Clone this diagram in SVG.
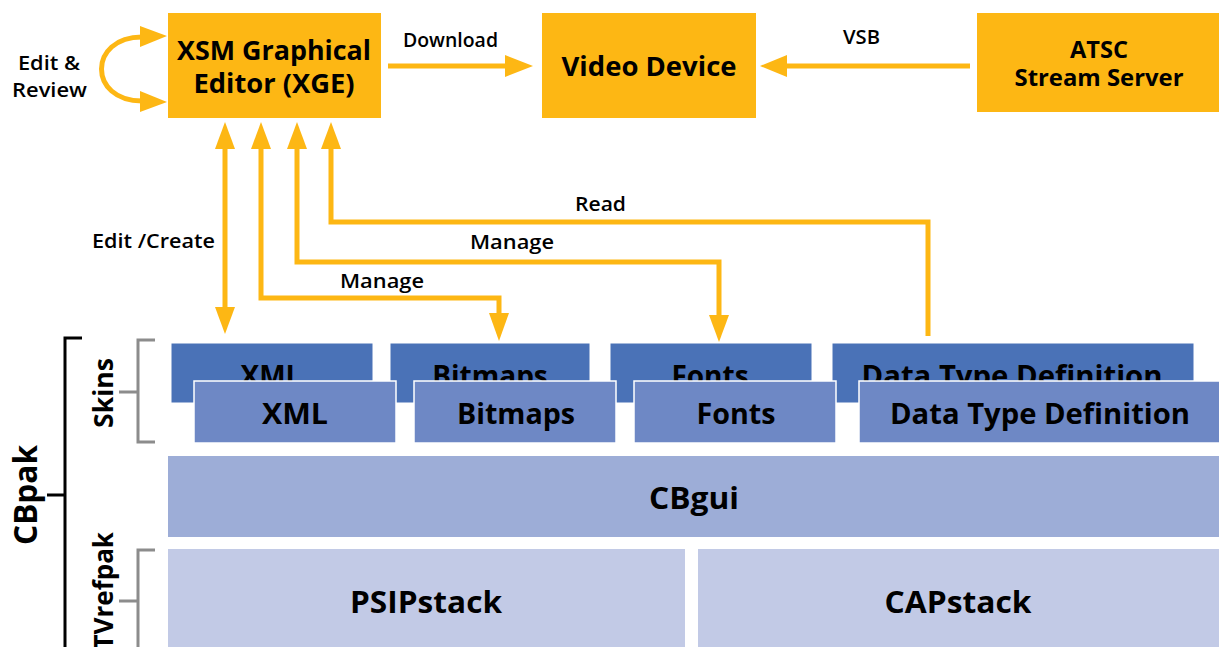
<svg xmlns="http://www.w3.org/2000/svg" width="1219" height="647" viewBox="0 0 1219 647">
<style>
text{font-family:"Open Sans","Noto Sans","DejaVu Sans",sans-serif;fill:#000;font-weight:700}
.orange{fill:#FDB714}
.box{font-size:26px;text-anchor:middle}
.lbl{font-size:19px;font-weight:600}
.conn{fill:none;stroke:#FDB714;stroke-width:5}
.back{fill:#4A72B7;stroke:#fff;stroke-width:1}
.front{fill:#6E88C5;stroke:#fff;stroke-width:1.5}
.skin{font-size:28px;text-anchor:middle}
.big{font-size:31px;text-anchor:middle}
.brk{fill:none;stroke:#8C8C8C;stroke-width:3}
.brkb{fill:none;stroke:#000;stroke-width:3}
.head{fill:#FDB714}
</style>

<g id="xge">
<rect class="orange" x="168" y="13" width="213" height="105"/>
<text class="box" x="274" y="60" textLength="194" lengthAdjust="spacingAndGlyphs">XSM Graphical</text>
<text class="box" x="274" y="93" textLength="161" lengthAdjust="spacingAndGlyphs">Editor (XGE)</text>
</g>
<g id="video-device">
<rect class="orange" x="542" y="13" width="214" height="105"/>
<text class="box" x="649" y="76" textLength="175" lengthAdjust="spacingAndGlyphs">Video Device</text>
</g>
<g id="atsc">
<rect class="orange" x="977" y="13" width="242" height="99"/>
<text class="box" x="1099" y="58" style="font-size:24px" textLength="58" lengthAdjust="spacingAndGlyphs">ATSC</text>
<text class="box" x="1099" y="86" style="font-size:24px" textLength="169" lengthAdjust="spacingAndGlyphs">Stream Server</text>
</g>

<g id="skins-back">
<rect class="back" x="171" y="343" width="202" height="60"/>
<text class="skin" x="271" y="386">XML</text>
<rect class="back" x="390" y="343" width="200" height="60"/>
<text class="skin" x="490" y="386">Bitmaps</text>
<rect class="back" x="610" y="343" width="202" height="60"/>
<text class="skin" x="710" y="386">Fonts</text>
<rect class="back" x="832" y="343" width="362" height="60"/>
<text class="skin" x="1012" y="386" textLength="301" lengthAdjust="spacingAndGlyphs">Data Type Definition</text>
</g>
<g id="xml">
<rect class="front" x="194" y="381" width="202" height="62"/>
<text class="skin" x="295" y="424" textLength="66" lengthAdjust="spacingAndGlyphs">XML</text>
</g>
<g id="bitmaps">
<rect class="front" x="414" y="381" width="202" height="62"/>
<text class="skin" x="516" y="424" textLength="118" lengthAdjust="spacingAndGlyphs">Bitmaps</text>
</g>
<g id="fonts">
<rect class="front" x="634" y="381" width="202" height="62"/>
<text class="skin" x="736" y="424" textLength="79" lengthAdjust="spacingAndGlyphs">Fonts</text>
</g>
<g id="dtd">
<rect class="front" x="859" y="381" width="362" height="62"/>
<text class="skin" x="1040" y="424" textLength="300" lengthAdjust="spacingAndGlyphs">Data Type Definition</text>
</g>

<g id="cbgui">
<rect x="168" y="456" width="1051" height="81" fill="#9DADD7"/>
<text class="big" x="694" y="509" textLength="90" lengthAdjust="spacingAndGlyphs">CBgui</text>
</g>
<g id="psipstack">
<rect x="168" y="549" width="517" height="100" fill="#C2CAE6"/>
<text class="big" x="426" y="613" textLength="152" lengthAdjust="spacingAndGlyphs">PSIPstack</text>
</g>
<g id="capstack">
<rect x="698" y="549" width="521" height="100" fill="#C2CAE6"/>
<text class="big" x="958" y="613" textLength="147" lengthAdjust="spacingAndGlyphs">CAPstack</text>
</g>

<g id="brackets">
<path class="brkb" d="M82 338 H65 V649 M47 495 H65"/>
<path class="brk" d="M155 340 H138 V442 H155 M119 392 H138"/>
<path class="brk" d="M155 550 H138 V649 M119 601 H138"/>
<text transform="translate(37 495) rotate(-90)" style="font-size:32px;text-anchor:middle" textLength="100" lengthAdjust="spacingAndGlyphs">CBpak</text>
<text transform="translate(113 393) rotate(-90)" style="font-size:26px;text-anchor:middle" textLength="70" lengthAdjust="spacingAndGlyphs">Skins</text>
<text transform="translate(113 532) rotate(-90)" style="font-size:26px;text-anchor:end">TVrefpak</text>
</g>

<g id="connectors">
<!-- Edit & Review loop -->
<path class="conn" d="M142 37 C88 37 88 101 142 101"/>
<polygon class="head" points="167,36 140,26 140,47"/>
<polygon class="head" points="167,102 140,91 140,112"/>
<!-- Download -->
<line class="conn" x1="388" y1="66" x2="507" y2="66"/>
<polygon class="head" points="533,66 505,55 505,77"/>
<!-- VSB -->
<line class="conn" x1="970" y1="66" x2="784" y2="66"/>
<polygon class="head" points="760,66 787,55 787,77"/>
<!-- Edit/Create double -->
<line class="conn" x1="225" y1="146" x2="225" y2="310"/>
<polygon class="head" points="225,122 215,149 235,149"/>
<polygon class="head" points="225,334 215,307 235,307"/>
<!-- Manage bitmaps -->
<path class="conn" d="M261 146 V298 H499 V316"/>
<polygon class="head" points="261,122 251,149 271,149"/>
<polygon class="head" points="499,341 489,313 509,313"/>
<!-- Manage fonts -->
<path class="conn" d="M297 146 V262 H719 V318"/>
<polygon class="head" points="297,122 287,149 307,149"/>
<polygon class="head" points="719,342 709,315 729,315"/>
<!-- Read -->
<path class="conn" d="M331 146 V222 H928 V336"/>
<polygon class="head" points="331,122 321,149 341,149"/>
</g>

<g id="labels">
<text class="lbl" x="49" y="70" text-anchor="middle" textLength="62" lengthAdjust="spacingAndGlyphs">Edit &amp;</text>
<text class="lbl" x="49.5" y="97" text-anchor="middle" textLength="75" lengthAdjust="spacingAndGlyphs">Review</text>
<text class="lbl" x="403" y="47" textLength="95" lengthAdjust="spacingAndGlyphs">Download</text>
<text class="lbl" x="843" y="44" textLength="37" lengthAdjust="spacingAndGlyphs">VSB</text>
<text class="lbl" x="92" y="248" textLength="123" lengthAdjust="spacingAndGlyphs">Edit /Create</text>
<text class="lbl" x="340" y="288" textLength="84" lengthAdjust="spacingAndGlyphs">Manage</text>
<text class="lbl" x="470" y="249" textLength="84" lengthAdjust="spacingAndGlyphs">Manage</text>
<text class="lbl" x="575" y="211" textLength="51" lengthAdjust="spacingAndGlyphs">Read</text>
</g>
</svg>
